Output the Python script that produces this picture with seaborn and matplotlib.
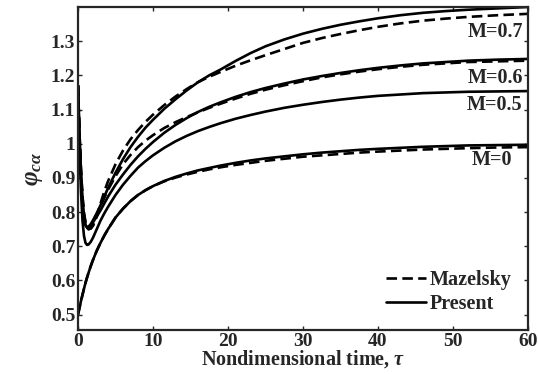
import matplotlib
matplotlib.use("Agg")
import matplotlib.pyplot as plt
from matplotlib.lines import Line2D
import seaborn as sns
import pandas as pd

# ---- data ----
tau = [0, 0.2, 0.4, 0.6, 0.8, 1.0, 1.2, 1.4, 1.7, 2, 2.5, 3, 3.5, 4, 5, 6, 7, 8, 9, 10,
       11.5, 13, 14.5, 16, 17.5, 19, 21, 23, 25, 27.5, 30, 32.5, 35, 37.5, 40, 43, 46, 49, 52, 56, 60]

present_m07 = [1.17, 1.02, 0.91, 0.83, 0.785, 0.762, 0.755, 0.757, 0.765, 0.776, 0.797, 0.82, 0.845, 0.87,
               0.915, 0.955, 0.99, 1.02, 1.047, 1.07, 1.102, 1.13, 1.156, 1.18, 1.20, 1.217, 1.242, 1.265,
               1.285, 1.305, 1.322, 1.336, 1.348, 1.358, 1.367, 1.376, 1.383, 1.388, 1.392, 1.396, 1.40]
mazel_m07 = [1.17, 1.03, 0.92, 0.845, 0.795, 0.77, 0.755, 0.75, 0.752, 0.762, 0.79, 0.825, 0.86, 0.89,
             0.94, 0.98, 1.013, 1.04, 1.064, 1.085, 1.113, 1.138, 1.16, 1.18, 1.196, 1.21, 1.228, 1.244,
             1.259, 1.277, 1.295, 1.309, 1.321, 1.332, 1.342, 1.352, 1.36, 1.366, 1.371, 1.376, 1.38]
present_m06 = [1.17, 1.02, 0.91, 0.83, 0.785, 0.762, 0.755, 0.756, 0.761, 0.77, 0.787, 0.805, 0.825, 0.845,
               0.88, 0.91, 0.938, 0.963, 0.985, 1.005, 1.032, 1.055, 1.075, 1.093, 1.108, 1.121, 1.137,
               1.151, 1.163, 1.176, 1.188, 1.198, 1.207, 1.215, 1.222, 1.229, 1.235, 1.239, 1.243, 1.246, 1.248]
mazel_m06 = [1.17, 1.03, 0.92, 0.845, 0.795, 0.77, 0.755, 0.75, 0.752, 0.76, 0.787, 0.815, 0.842, 0.865,
             0.905, 0.94, 0.967, 0.99, 1.009, 1.025, 1.046, 1.063, 1.078, 1.092, 1.105, 1.117, 1.132,
             1.146, 1.158, 1.171, 1.183, 1.194, 1.203, 1.211, 1.218, 1.225, 1.231, 1.235, 1.239, 1.241, 1.243]
present_m05 = [1.17, 0.99, 0.86, 0.775, 0.73, 0.71, 0.704, 0.705, 0.713, 0.725, 0.75, 0.775, 0.796, 0.815,
               0.85, 0.88, 0.906, 0.93, 0.949, 0.966, 0.988, 1.007, 1.023, 1.037, 1.049, 1.06, 1.073,
               1.084, 1.094, 1.105, 1.114, 1.122, 1.129, 1.135, 1.14, 1.144, 1.148, 1.15, 1.152, 1.153, 1.154]
present_m0 = [0.5, 0.52, 0.54, 0.558, 0.576, 0.593, 0.608, 0.622, 0.642, 0.66, 0.687, 0.71, 0.731, 0.75,
              0.784, 0.81, 0.832, 0.85, 0.864, 0.876, 0.891, 0.903, 0.913, 0.922, 0.929, 0.936, 0.944,
              0.951, 0.957, 0.963, 0.969, 0.974, 0.978, 0.982, 0.985, 0.988, 0.991, 0.993, 0.995, 0.996, 0.997]
mazel_m0 = [0.5, 0.52, 0.54, 0.558, 0.576, 0.593, 0.608, 0.622, 0.642, 0.66, 0.687, 0.71, 0.731, 0.75,
            0.784, 0.81, 0.832, 0.85, 0.864, 0.876, 0.89, 0.901, 0.91, 0.918, 0.925, 0.931, 0.938,
            0.944, 0.95, 0.956, 0.962, 0.966, 0.97, 0.974, 0.977, 0.98, 0.983, 0.985, 0.987, 0.989, 0.99]

labels = ["M=0.7", "M=0.6", "M=0.5", "M=0"]
label_x = [59.3, 59.3, 59.3, 55.2]
label_y = [1.328, 1.192, 1.113, 0.953]
label_ha = ["right", "right", "right", "center"]

xticks = [0, 10, 20, 30, 40, 50, 60]
yticks = [0.5, 0.6, 0.7, 0.8, 0.9, 1.0, 1.1, 1.2, 1.3]
yticklabels = ["0.5", "0.6", "0.7", "0.8", "0.9", "1", "1.1", "1.2", "1.3"]

sns.set_theme(style="ticks")
plt.rcParams["font.family"] = ["Liberation Serif", "DejaVu Serif"]
plt.rcParams["mathtext.fontset"] = "custom"
plt.rcParams["mathtext.it"] = "Liberation Serif:italic:bold"
plt.rcParams["mathtext.rm"] = "Liberation Serif:bold"
plt.rcParams["mathtext.bf"] = "Liberation Serif:bold"

fig = plt.figure(figsize=(5.39, 3.74), dpi=100)
ax = fig.add_axes([78 / 539, 1 - 330 / 374, 450 / 539, 323 / 374])

lw = 1.9
dash = (0, (4, 2))
series = [
    (present_m07, "-"), (mazel_m07, dash),
    (present_m06, "-"), (mazel_m06, dash),
    (present_m05, "-"),
    (present_m0, "-"), (mazel_m0, dash),
]
for v, ls in series:
    df = pd.DataFrame({"tau": tau, "phi": v})
    sns.lineplot(data=df, x="tau", y="phi", ax=ax, color="black", linewidth=lw,
                 linestyle=ls, sort=False, estimator=None)

for s, x, y, ha in zip(labels, label_x, label_y, label_ha):
    ax.text(x, y, s, ha=ha, va="center", fontsize=14.5, fontweight="bold")

ax.set_xlim(0, 60)
ax.set_ylim(0.455, 1.4)
ax.set_xticks(xticks)
ax.set_yticks(yticks)
ax.set_yticklabels(yticklabels)
ax.tick_params(direction="in", length=3, width=1, top=True, right=True,
               labelsize=14, pad=2)
for lab in ax.get_xticklabels() + ax.get_yticklabels():
    lab.set_fontweight("bold")
for sp in ax.spines.values():
    sp.set_linewidth(1.6)
    sp.set_visible(True)

ax.set_xlabel(r"Nondimensional time, $\tau$", fontsize=14.5, fontweight="bold", labelpad=-1)
ax.set_ylabel(r"$\varphi_{c\alpha}$", fontsize=18, labelpad=4)

handles = [Line2D([], [], color="black", lw=lw, linestyle=dash),
           Line2D([], [], color="black", lw=lw, linestyle="-")]
leg = ax.legend(handles, ["Mazelsky", "Present"], loc="lower right", frameon=False,
                prop={"size": 14.5, "weight": "bold"}, handlelength=2.0, handletextpad=0.2,
                borderaxespad=0.4, labelspacing=0.2, bbox_to_anchor=(1.0, 0.0))

fig.savefig("out.png", dpi=100)
